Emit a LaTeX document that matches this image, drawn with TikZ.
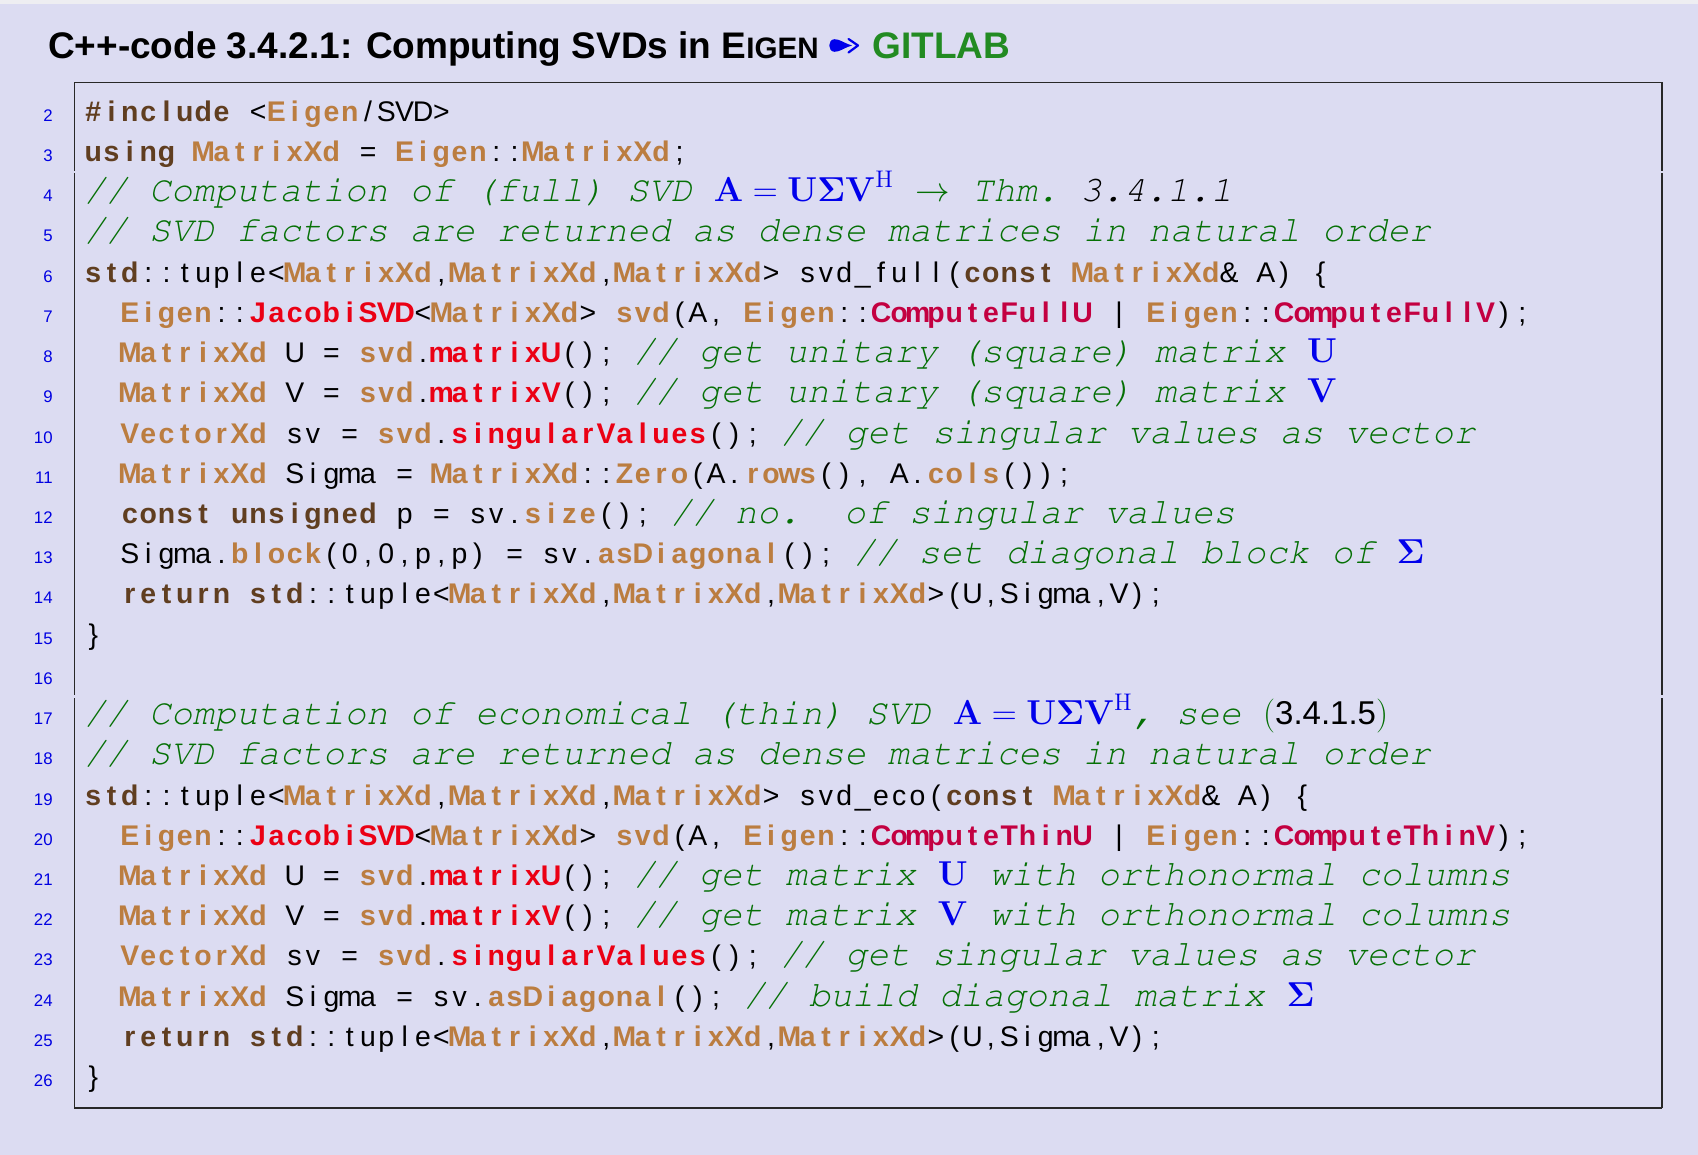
\documentclass[tikz,border=0pt]{standalone}
\usepackage[T1]{fontenc}
\usepackage[no-math]{fontspec}
\setsansfont{Liberation Sans}
\usepackage{xcolor}
\definecolor{bgc}{RGB}{220,220,242}
\definecolor{topc}{RGB}{238,238,242}
\definecolor{kwc}{RGB}{96,62,32}
\definecolor{typec}{RGB}{187,125,64}
\definecolor{redc}{RGB}{235,0,20}
\definecolor{crimc}{RGB}{195,0,65}
\definecolor{commc}{RGB}{5,112,5}
\definecolor{mathc}{RGB}{0,0,235}
\definecolor{lnc}{RGB}{0,0,225}
\definecolor{gitc}{RGB}{34,139,34}
\definecolor{framec}{RGB}{40,40,40}
\newlength\cw
\setlength\cw{9.16pt}
\def\ccstop{\ccstop}
\def\ccloop#1{\ifx#1\ccstop\else\ccchar{#1}\expandafter\ccloop\fi}
\def\ccchar#1{\ifx#1~\hbox to\cw{}\else\hbox to\cw{\hss#1\hss}\fi}
\newcommand\Cs[1]{\ccloop#1\ccstop}
\newcommand\codefont{\sffamily\fontsize{14.2}{16}\selectfont}
\newcommand\cmtfont{\fontencoding{T1}\fontfamily{pcr}\fontseries{m}\fontshape{sl}\fontsize{18.1}{22}\selectfont\setlength\cw{10.86pt}}
\newcommand\Cn[1]{{\color{black}\Cs{#1}}}
\newcommand\Ck[1]{{\color{kwc}\bfseries\Cs{#1}}}
\newcommand\Ct[1]{{\color{typec}\bfseries\Cs{#1}}}
\newcommand\Cr[1]{{\color{redc}\bfseries\Cs{#1}}}
\newcommand\Cx[1]{{\color{crimc}\bfseries\Cs{#1}}}
\newcommand\Cm[1]{{\cmtfont\color{commc}\Cs{#1}}}
\newcommand\Cmk[1]{{\cmtfont\color{black}\Cs{#1}}}
\newcommand\Cmath[1]{{\fontsize{17}{19}\selectfont\color{mathc}$#1$}}
\newcommand\MEQ{\Cmath{\mathbf{A}=\mathbf{U\Sigma V}^{\mathrm{H}}}}
\tikzset{
  codeline/.style={anchor=base west, inner sep=0pt, outer sep=0pt, font=\codefont},
  lnum/.style={anchor=base east, inner sep=0pt, font=\sffamily\fontsize{8.4}{10}\selectfont, text=lnc},
  framel/.style={draw=framec, line width=0.6pt},
}
\begin{document}
\begin{tikzpicture}[x=0.5pt,y=-0.5pt]
\useasboundingbox (0,0) rectangle (1698,1155);
\fill[bgc] (0,4) rectangle (1698,1155);
\fill[topc] (0,0) rectangle (1698,4);
% title
\node[anchor=base west, inner sep=0pt, font=\sffamily\bfseries\fontsize{18.5}{22}\selectfont] (title) at (47.7,58.8) {C++-code 3.4.2.1: Computing SVDs in E{\fontsize{14.8}{18}\selectfont IGEN}};
\fill[mathc] (852,45.5) .. controls (845,43.8) and (840,39) .. (834.5,39.2) .. controls (827.5,39.5) and (827.5,51.5) .. (834.5,51.8) .. controls (840,52) and (845,47.2) .. (852,45.5) -- cycle;
\draw[mathc, line width=1.1pt, line cap=round, line join=round] (848.5,39) -- (858,45.5) -- (848.5,52.5);
\node[anchor=base west, inner sep=0pt, text=gitc, font=\sffamily\bfseries\fontsize{18.5}{22}\selectfont] (gitlab) at (872,58.8) {GITLAB};
% frame
\draw[framel] (74.5,82.5) -- (1662,82.5);
\draw[framel] (74.5,82.5) -- (74.5,171);
\draw[framel] (74.5,173.5) -- (74.5,695);
\draw[framel] (74.5,698) -- (74.5,1107.5);
\draw[framel] (1662,82.5) -- (1662,171);
\draw[framel] (1662,173.5) -- (1662,695);
\draw[framel] (1662,698) -- (1662,1107.5);
\draw[draw=framec, line width=1pt] (74,1107.5) -- (1662.3,1107.5);
% line numbers
\foreach \n/\y in {2/121.3,3/161.52,4/201.74,5/241.96,6/282.18,7/322.4,8/362.62,9/402.84,10/443.06,11/483.28,12/523.5,13/563.72,14/603.94,15/644.16,16/684.38,17/724.6,18/764.82,19/805.04,20/845.26,21/885.48,22/925.7,23/965.92,24/1006.14,25/1046.36,26/1086.58}
  \node[lnum] (n\n) at (53,\y) {\n};
% code
\node[codeline] (l2) at (84.1,121.3) {\Ck{\#include}\Cn{~<}\Ct{Eigen}\Cn{/SVD>}};
\node[codeline] (l3) at (84.1,161.52) {\Ck{using}\Cn{~}\Ct{MatrixXd}\Cn{~=~}\Ct{Eigen}\Cn{::}\Ct{MatrixXd}\Cn{;}};
\node[codeline] (l4) at (84.1,201.74) {\Cm{//~Computation~of~(full)~SVD~}\MEQ\Cm{~}{\fontsize{17}{19}\selectfont\color{commc}$\rightarrow$}\Cm{~Thm.~}\Cmk{3.4.1.1}};
\node[codeline] (l5) at (84.1,241.96) {\Cm{//~SVD~factors~are~returned~as~dense~matrices~in~natural~order}};
\node[codeline] (l6) at (84.1,282.18) {\Ck{std}\Cn{::tuple<}\Ct{MatrixXd}\Cn{,}\Ct{MatrixXd}\Cn{,}\Ct{MatrixXd}\Cn{>~svd\_full(}\Ck{const}\Cn{~}\Ct{MatrixXd}\Cn{\&~A)~\{}};
\node[codeline] (l7) at (84.1,322.4) {\Cn{~~}\Ct{Eigen}\Cn{::}\Cr{JacobiSVD}\Cn{<}\Ct{MatrixXd}\Cn{>~}\Ct{svd}\Cn{(A,~}\Ct{Eigen}\Cn{::}\Cx{ComputeFullU}\Cn{~|~}\Ct{Eigen}\Cn{::}\Cx{ComputeFullV}\Cn{);}};
\node[codeline] (l8) at (84.1,362.62) {\Cn{~~}\Ct{MatrixXd}\Cn{~U~=~}\Ct{svd}\Cn{.}\Cr{matrixU}\Cn{();~}\Cm{//~get~unitary~(square)~matrix~}\Cmath{\mathbf{U}}};
\node[codeline] (l9) at (84.1,402.84) {\Cn{~~}\Ct{MatrixXd}\Cn{~V~=~}\Ct{svd}\Cn{.}\Cr{matrixV}\Cn{();~}\Cm{//~get~unitary~(square)~matrix~}\Cmath{\mathbf{V}}};
\node[codeline] (l10) at (84.1,443.06) {\Cn{~~}\Ct{VectorXd}\Cn{~sv~=~}\Ct{svd}\Cn{.}\Cr{singularValues}\Cn{();~}\Cm{//~get~singular~values~as~vector}};
\node[codeline] (l11) at (84.1,483.28) {\Cn{~~}\Ct{MatrixXd}\Cn{~Sigma~=~}\Ct{MatrixXd}\Cn{::}\Ct{Zero}\Cn{(A.}\Ct{rows}\Cn{(),~A.}\Ct{cols}\Cn{());}};
\node[codeline] (l12) at (84.1,523.5) {\Cn{~~}\Ck{const}\Cn{~}\Ck{unsigned}\Cn{~p~=~sv.}\Ct{size}\Cn{();~}\Cm{//~no.~~of~singular~values}};
\node[codeline] (l13) at (84.1,563.72) {\Cn{~~Sigma.}\Ct{block}\Cn{(0,0,p,p)~=~sv.}\Ct{asDiagonal}\Cn{();~}\Cm{//~set~diagonal~block~of~}\Cmath{\mathbf{\Sigma}}};
\node[codeline] (l14) at (84.1,603.94) {\Cn{~~}\Ck{return}\Cn{~}\Ck{std}\Cn{::tuple<}\Ct{MatrixXd}\Cn{,}\Ct{MatrixXd}\Cn{,}\Ct{MatrixXd}\Cn{>(U,Sigma,V);}};
\node[codeline] (l15) at (84.1,644.16) {\Cn{\}}};
\node[codeline] (l17) at (84.1,724.6) {\Cm{//~Computation~of~economical~(thin)~SVD~}\MEQ\Cm{,~see~}{\fontsize{17}{19}\selectfont\color{commc}\rmfamily(}{\fontsize{16.5}{19}\selectfont 3.4.1.5}{\fontsize{17}{19}\selectfont\color{commc}\rmfamily)}};
\node[codeline] (l18) at (84.1,764.82) {\Cm{//~SVD~factors~are~returned~as~dense~matrices~in~natural~order}};
\node[codeline] (l19) at (84.1,805.04) {\Ck{std}\Cn{::tuple<}\Ct{MatrixXd}\Cn{,}\Ct{MatrixXd}\Cn{,}\Ct{MatrixXd}\Cn{>~svd\_eco(}\Ck{const}\Cn{~}\Ct{MatrixXd}\Cn{\&~A)~\{}};
\node[codeline] (l20) at (84.1,845.26) {\Cn{~~}\Ct{Eigen}\Cn{::}\Cr{JacobiSVD}\Cn{<}\Ct{MatrixXd}\Cn{>~}\Ct{svd}\Cn{(A,~}\Ct{Eigen}\Cn{::}\Cx{ComputeThinU}\Cn{~|~}\Ct{Eigen}\Cn{::}\Cx{ComputeThinV}\Cn{);}};
\node[codeline] (l21) at (84.1,885.48) {\Cn{~~}\Ct{MatrixXd}\Cn{~U~=~}\Ct{svd}\Cn{.}\Cr{matrixU}\Cn{();~}\Cm{//~get~matrix~}\Cmath{\mathbf{U}}\Cm{~with~orthonormal~columns}};
\node[codeline] (l22) at (84.1,925.7) {\Cn{~~}\Ct{MatrixXd}\Cn{~V~=~}\Ct{svd}\Cn{.}\Cr{matrixV}\Cn{();~}\Cm{//~get~matrix~}\Cmath{\mathbf{V}}\Cm{~with~orthonormal~columns}};
\node[codeline] (l23) at (84.1,965.92) {\Cn{~~}\Ct{VectorXd}\Cn{~sv~=~}\Ct{svd}\Cn{.}\Cr{singularValues}\Cn{();~}\Cm{//~get~singular~values~as~vector}};
\node[codeline] (l24) at (84.1,1006.14) {\Cn{~~}\Ct{MatrixXd}\Cn{~Sigma~=~sv.}\Ct{asDiagonal}\Cn{();~}\Cm{//~build~diagonal~matrix~}\Cmath{\mathbf{\Sigma}}};
\node[codeline] (l25) at (84.1,1046.36) {\Cn{~~}\Ck{return}\Cn{~}\Ck{std}\Cn{::tuple<}\Ct{MatrixXd}\Cn{,}\Ct{MatrixXd}\Cn{,}\Ct{MatrixXd}\Cn{>(U,Sigma,V);}};
\node[codeline] (l26) at (84.1,1086.58) {\Cn{\}}};
\end{tikzpicture}
\end{document}
